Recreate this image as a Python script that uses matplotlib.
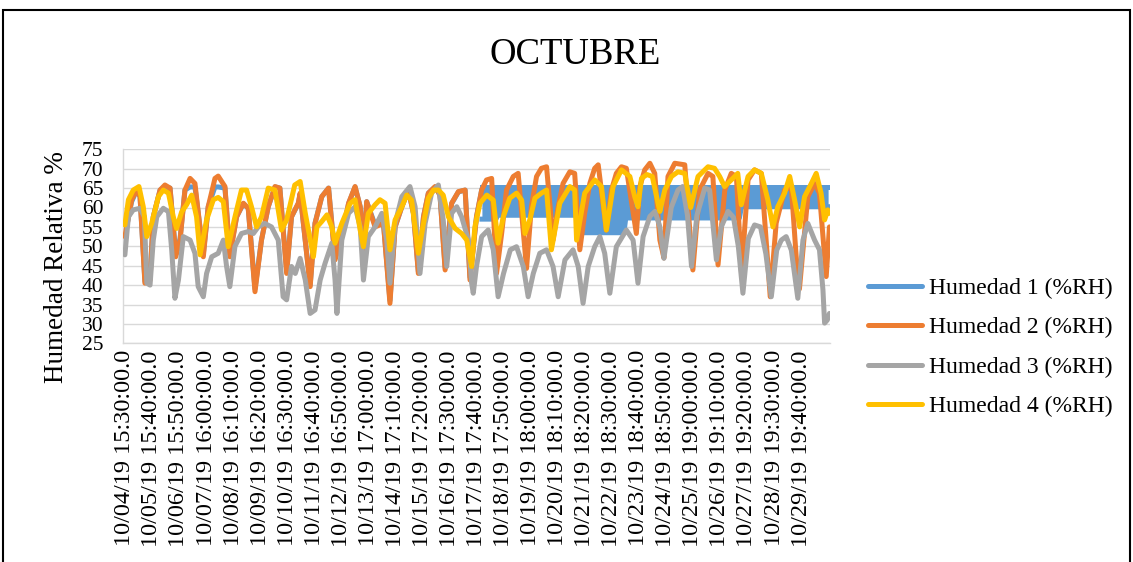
import matplotlib
matplotlib.use("Agg")
import matplotlib.pyplot as plt
from matplotlib.patches import Rectangle

# ---- category labels (one every 145 samples of 10 min) ----
tick_labels = [
    "10/04/19 15:30:00.0", "10/05/19 15:40:00.0", "10/06/19 15:50:00.0",
    "10/07/19 16:00:00.0", "10/08/19 16:10:00.0", "10/09/19 16:20:00.0",
    "10/10/19 16:30:00.0", "10/11/19 16:40:00.0", "10/12/19 16:50:00.0",
    "10/13/19 17:00:00.0", "10/14/19 17:10:00.0", "10/15/19 17:20:00.0",
    "10/16/19 17:30:00.0", "10/17/19 17:40:00.0", "10/18/19 17:50:00.0",
    "10/19/19 18:00:00.0", "10/20/19 18:10:00.0", "10/21/19 18:20:00.0",
    "10/22/19 18:30:00.0", "10/23/19 18:40:00.0", "10/24/19 18:50:00.0",
    "10/25/19 19:00:00.0", "10/26/19 19:10:00.0", "10/27/19 19:20:00.0",
    "10/28/19 19:30:00.0", "10/29/19 19:40:00.0",
]

# ---- Humedad 1: regular trace, then rapid on/off cycling shown as a band ----
h1_days = [0.0, 0.25, 0.44, 0.56, 0.74, 0.93, 1.05, 1.3, 1.48, 1.67, 1.88, 2.04,
           2.22, 2.41, 2.59, 2.9, 3.08, 3.33, 3.45, 3.7, 3.88, 4.13, 4.38, 4.56,
           4.81, 5.05, 5.3, 5.55, 5.73, 5.98, 6.16, 6.41, 6.48, 6.85, 7.03, 7.28,
           7.53, 7.77, 8.02, 8.27, 8.51, 8.7, 8.82, 8.94, 9.25, 9.56, 9.8, 9.99,
           10.24, 10.48, 10.67, 10.85, 11.04, 11.22, 11.47, 11.65, 11.84, 12.08,
           12.33, 12.58, 12.76, 13.0, 13.2]
h1_vals = [53.0, 61.5, 64.5, 62.8, 41.0, 42.0, 57.6, 64.5, 65.3, 65.0, 48.0, 52.0,
           64.5, 65.3, 65.3, 48.0, 60.2, 65.3, 65.3, 65.0, 48.0, 57.6, 61.0, 59.8,
           39.0, 51.6, 60.2, 65.3, 65.0, 43.5, 57.6, 61.0, 63.5, 40.0, 56.0, 62.8,
           65.0, 47.0, 52.5, 61.0, 65.3, 60.2, 49.5, 61.5, 55.5, 56.0, 36.0, 55.0,
           60.2, 64.5, 58.5, 43.5, 57.6, 63.7, 65.3, 63.2, 44.5, 61.0, 64.0, 64.5,
           42.0, 57.6, 64.8]
h1_band_days = [13.2, 13.72, 13.78, 16.82, 16.88, 18.45, 18.52, 22.72, 22.8, 26.0]
h1_band_low = [57.0, 57.0, 58.0, 58.0, 53.5, 53.5, 57.3, 57.3, 60.2, 60.2]
h1_band_high = [65.2, 65.2, 65.2, 65.2, 65.2, 65.2, 65.2, 65.2, 65.2, 65.2]

# ---- Humedad 2 ----
h2_days = [0.0, 0.25, 0.44, 0.56, 0.74, 0.93, 1.05, 1.3, 1.48, 1.67, 1.88, 2.04,
           2.22, 2.41, 2.59, 2.9, 3.08, 3.33, 3.45, 3.7, 3.88, 4.13, 4.38, 4.56,
           4.81, 5.05, 5.3, 5.55, 5.73, 5.98, 6.16, 6.41, 6.48, 6.85, 7.03, 7.28,
           7.53, 7.77, 8.02, 8.27, 8.51, 8.7, 8.82, 8.94, 9.25, 9.56, 9.8, 9.99,
           10.24, 10.48, 10.67, 10.85, 11.04, 11.22, 11.47, 11.65, 11.84, 12.08,
           12.33, 12.58, 12.76, 13.0, 13.19, 13.37, 13.56, 13.74, 13.93, 14.11,
           14.36, 14.54, 14.85, 15.03, 15.22, 15.4, 15.59, 15.83, 16.02, 16.2,
           16.45, 16.63, 16.82, 17.0, 17.19, 17.37, 17.5, 17.8, 17.99, 18.17,
           18.36, 18.54, 18.91, 19.04, 19.22, 19.41, 19.59, 19.78, 19.93, 20.08,
           20.33, 20.7, 21.0, 21.25, 21.56, 21.74, 21.93, 22.18, 22.42, 22.61,
           22.8, 23.04, 23.28, 23.53, 23.86, 24.08, 24.39, 24.64, 24.82, 24.94,
           25.25, 25.5, 25.68, 25.93, 26.05]
h2_vals = [52.5, 62.0, 64.5, 62.8, 40.5, 41.3, 57.6, 64.5, 65.8, 65.0, 47.3, 51.6,
           64.5, 67.5, 66.2, 47.3, 60.2, 67.5, 68.1, 65.4, 47.3, 57.6, 61.1, 59.8,
           38.3, 51.6, 60.2, 65.4, 65.0, 43.0, 57.6, 61.1, 63.7, 39.6, 55.9, 62.8,
           65.0, 46.5, 52.5, 61.1, 65.4, 60.2, 49.1, 61.5, 55.0, 55.9, 35.3, 55.0,
           60.2, 64.5, 58.5, 43.0, 57.6, 63.7, 65.4, 63.2, 43.9, 61.1, 64.1, 64.5,
           41.3, 57.6, 64.5, 67.1, 67.5, 43.0, 53.3, 64.5, 68.0, 68.8, 44.3, 60.2,
           68.0, 70.1, 70.5, 51.6, 60.2, 66.2, 69.2, 68.8, 49.1, 58.5, 66.2, 70.1,
           71.0, 54.2, 64.5, 68.8, 70.5, 70.1, 53.3, 65.4, 69.7, 71.4, 68.8, 51.6,
           47.0, 68.0, 71.4, 71.0, 43.9, 64.5, 68.8, 68.0, 45.2, 64.5, 68.8, 68.0,
           43.0, 67.1, 69.7, 68.8, 37.0, 56.0, 64.5, 65.4, 47.3, 39.0, 62.8, 66.2,
           63.7, 42.2, 55.0]

# ---- Humedad 3 ----
h3_days = [0.0, 0.13, 0.31, 0.56, 0.72, 0.81, 0.93, 1.05, 1.18, 1.42, 1.61, 1.73,
           1.85, 1.98, 2.16, 2.41, 2.59, 2.71, 2.9, 3.02, 3.21, 3.45, 3.64, 3.76,
           3.88, 4.07, 4.31, 4.56, 4.75, 4.93, 5.17, 5.42, 5.67, 5.85, 5.98, 6.16,
           6.3, 6.48, 6.67, 6.85, 7.03, 7.22, 7.4, 7.65, 7.77, 7.84, 8.02, 8.27,
           8.51, 8.7, 8.82, 9.0, 9.25, 9.5, 9.68, 9.8, 9.99, 10.24, 10.54, 10.73,
           10.91, 11.1, 11.34, 11.59, 11.77, 11.9, 12.08, 12.27, 12.45, 12.7, 12.82,
           12.88, 13.0, 13.19, 13.43, 13.62, 13.8, 14.0, 14.25, 14.48, 14.73, 14.91,
           15.1, 15.34, 15.59, 15.83, 16.02, 16.27, 16.57, 16.76, 16.94, 17.13,
           17.37, 17.56, 17.74, 17.93, 18.17, 18.54, 18.79, 18.97, 19.16, 19.41,
           19.6, 19.78, 19.93, 20.2, 20.45, 20.62, 20.8, 20.95, 21.15, 21.44, 21.62,
           21.75, 21.87, 22.05, 22.3, 22.5, 22.68, 22.85, 23.05, 23.28, 23.5, 23.7,
           23.9, 24.1, 24.27, 24.45, 24.64, 24.88, 25.07, 25.25, 25.5, 25.68, 25.81,
           25.87, 25.97, 26.05]
h3_vals = [47.8, 57.6, 59.4, 59.8, 57.6, 40.5, 40.0, 51.6, 57.6, 59.8, 58.9, 49.1,
           36.6, 41.3, 52.5, 51.6, 48.2, 39.6, 37.0, 43.0, 47.3, 48.2, 51.6, 44.8,
           39.6, 50.0, 53.3, 53.8, 53.3, 55.0, 55.9, 55.0, 51.6, 37.0, 36.2, 44.8,
           43.0, 46.9, 41.3, 32.7, 33.6, 41.3, 45.6, 50.8, 41.3, 32.7, 51.6, 58.5,
           60.2, 55.0, 41.3, 52.5, 55.0, 58.5, 51.6, 40.5, 55.9, 62.8, 65.4, 60.2,
           43.0, 55.9, 63.7, 65.8, 56.8, 44.8, 58.5, 60.2, 57.6, 51.6, 40.5,
           37.9, 44.8, 52.5, 54.2, 49.1, 37.0, 43.0, 49.1, 49.9, 44.8, 37.0,
           43.0, 48.2, 49.1, 44.8, 37.0, 46.5, 49.1, 44.8, 35.3, 44.8,
           49.9, 52.5, 48.2, 37.9, 49.9, 54.2, 51.6, 40.5, 52.5, 57.7,
           59.0, 55.0, 46.9, 60.0, 64.5, 65.4, 58.0, 44.8, 58.0, 65.0, 64.5,
           55.0, 46.5, 55.0, 59.0, 57.5, 50.0, 37.9, 52.0, 55.5, 55.0, 48.0,
           37.0, 49.0, 51.6, 52.5, 49.0, 36.6, 51.6, 55.9, 51.6, 49.1, 38.7,
           30.2, 31.0, 32.7]

# ---- Humedad 4 ----
h4_days = [0.0, 0.13, 0.31, 0.52, 0.68, 0.81, 0.99, 1.24, 1.42, 1.61, 1.79, 1.91,
           2.1, 2.28, 2.47, 2.65, 2.78, 3.02, 3.27, 3.45, 3.64, 3.82, 4.07, 4.31,
           4.5, 4.68, 4.87, 5.05, 5.3, 5.55, 5.79, 5.98, 6.28, 6.48, 6.67, 6.97,
           7.1, 7.28, 7.47, 7.65, 7.77, 8.02, 8.33, 8.51, 8.7, 8.82, 9.0, 9.25,
           9.43, 9.62, 9.8, 9.99, 10.24, 10.42, 10.6, 10.85, 11.04, 11.22, 11.41,
           11.59, 11.77, 11.96, 12.21, 12.45, 12.64, 12.82, 12.94, 13.13, 13.38,
           13.62, 13.8, 13.99, 14.23, 14.48, 14.67, 14.79, 14.97, 15.16, 15.4,
           15.59, 15.77, 16.08, 16.45, 16.63, 16.7, 17.0, 17.37, 17.62, 17.8,
           18.05, 18.36, 18.67, 18.85, 18.97, 19.1, 19.3, 19.5, 19.71, 19.78,
           19.96, 20.21, 20.45, 20.7, 20.92, 21.19, 21.56, 21.8, 21.99, 22.17,
           22.42, 22.66, 22.79, 23.04, 23.28, 23.53, 23.77, 23.96, 24.14, 24.39,
           24.58, 24.76, 24.95, 25.13, 25.38, 25.56, 25.74, 25.87, 25.99, 26.05]
h4_vals = [55.5, 62.0, 64.5, 65.4, 60.2, 52.5, 55.9, 62.8, 64.5, 63.7, 57.6, 54.6,
           58.9, 60.7, 63.2, 57.6, 47.8, 56.8, 62.0, 62.6, 61.5, 49.9, 57.6, 64.5,
           64.5, 60.2, 55.0, 57.6, 65.0, 64.5, 54.2, 56.8, 65.8, 66.7, 58.5, 47.3,
           55.0, 56.4, 58.1, 55.0, 50.8, 55.9, 61.1, 62.0, 54.2, 49.9, 58.5, 60.7,
           62.0, 61.1, 49.1, 56.8, 60.2, 63.2, 61.9, 48.2, 55.9, 62.4, 64.5,
           64.5, 63.2, 57.6, 54.6, 53.3, 51.6, 44.8, 55.0, 61.1, 63.2,
           61.9, 50.8, 57.6, 62.4, 63.7, 61.9, 53.3, 56.8, 62.4, 63.7,
           64.5, 49.1, 61.1, 65.4, 64.5, 51.6, 63.7, 67.1, 65.4, 54.2,
           65.4, 69.7, 68.0, 62.8, 60.2, 67.5, 68.5, 68.0, 61.1, 59.0,
           64.5, 68.0, 69.2, 68.8, 60.0, 68.0, 70.5, 70.1, 68.0, 65.4,
           67.1, 68.8, 60.7, 68.0, 69.7, 68.8, 62.0, 55.0, 60.2, 63.7,
           68.0, 62.0, 55.0, 62.8, 66.2, 68.8, 63.7, 56.8, 59.4, 58.5]

series_names = ["Humedad 1 (%RH)", "Humedad 2 (%RH)", "Humedad 3 (%RH)", "Humedad 4 (%RH)"]
series_colors = ["#5B9BD5", "#ED7D31", "#A5A5A5", "#FFC000"]

plt.rcParams["font.family"] = ["Liberation Serif", "DejaVu Serif"]

W, H = 1133, 562
fig = plt.figure(figsize=(W / 100, H / 100), dpi=100)
fig.patch.set_facecolor("white")

# chart frame
fig.patches.append(Rectangle((3 / W, -0.05), 1127 / W, 1.05 - 10 / H,
                             transform=fig.transFigure, fill=False,
                             edgecolor="black", linewidth=1.5))

ax = fig.add_axes([123 / W, 1 - 343.3 / H, (830 - 123) / W, (343.3 - 149.3) / H])
lw = 3.6

ax.plot(h1_days, h1_vals, color=series_colors[0], lw=lw, solid_joinstyle="round",
        solid_capstyle="round", label=series_names[0], zorder=2)
ax.fill_between(h1_band_days, h1_band_low, h1_band_high, color=series_colors[0],
                lw=0, zorder=2)
ax.plot(h1_band_days, h1_band_low, color=series_colors[0], lw=lw, zorder=2)
ax.plot(h1_band_days, h1_band_high, color=series_colors[0], lw=lw, zorder=2)
ax.plot(h2_days, h2_vals, color=series_colors[1], lw=lw, solid_joinstyle="round",
        solid_capstyle="round", label=series_names[1], zorder=3)
ax.plot(h3_days, h3_vals, color=series_colors[2], lw=lw, solid_joinstyle="round",
        solid_capstyle="round", label=series_names[2], zorder=4)
ax.plot(h4_days, h4_vals, color=series_colors[3], lw=lw, solid_joinstyle="round",
        solid_capstyle="round", label=series_names[3], zorder=5)

ax.set_xlim(-0.07, 26.07)
ax.set_ylim(25, 75)
ax.set_yticks(range(25, 76, 5))
ax.set_xticks(range(len(tick_labels)))
ax.set_xticklabels(tick_labels, rotation=90, fontsize=17.5)
ax.tick_params(axis="y", labelsize=15.5, length=0, pad=14)
ax.tick_params(axis="x", length=0, pad=5)
ax.grid(axis="y", color="#D9D9D9", lw=1.0)
ax.set_axisbelow(True)
for side in ["top", "right"]:
    ax.spines[side].set_visible(False)
for side in ["left", "bottom"]:
    ax.spines[side].set_color("#D9D9D9")
    ax.spines[side].set_linewidth(1.0)

fig.text(575 / W, 1 - 55 / H, "OCTUBRE", fontsize=26.5, ha="center", va="center")
fig.text(57 / W, 1 - 267 / H, "Humedad Relativa %", fontsize=19.5, rotation=90,
         ha="center", va="center")

handles = ax.get_legend_handles_labels()[0]
fig.legend(handles, series_names, loc="center left",
           bbox_to_anchor=(868 / W, 1 - 347.5 / H), frameon=False, fontsize=17,
           handlelength=2.3, handletextpad=0.3, labelspacing=0.76,
           borderpad=0, borderaxespad=0)

fig.savefig("out.png", dpi=100)
